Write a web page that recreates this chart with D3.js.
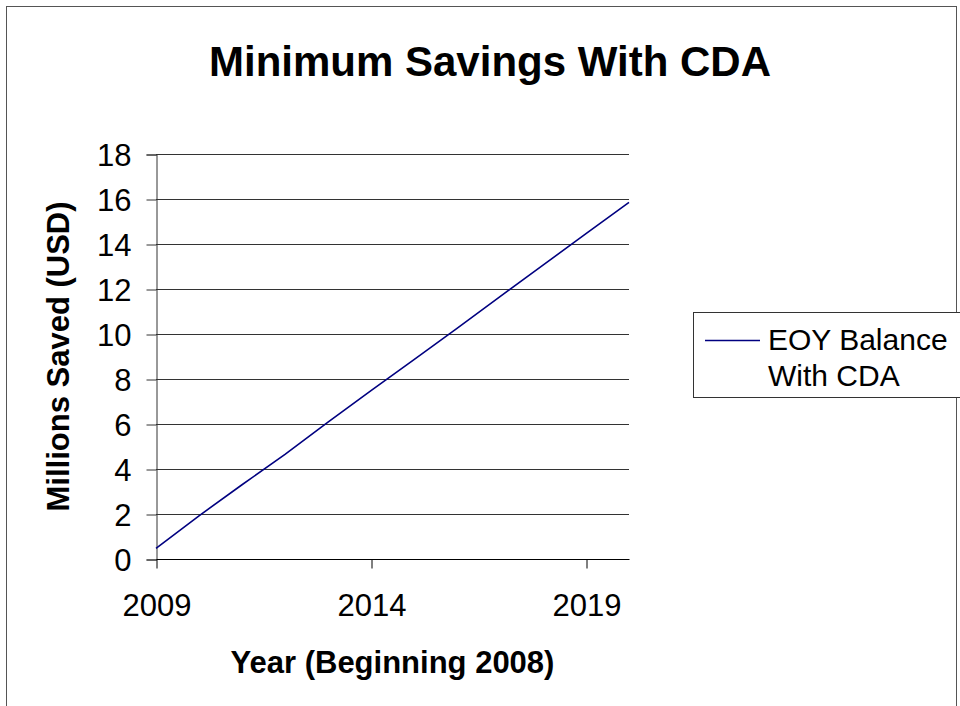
<!DOCTYPE html>
<html><head><meta charset="utf-8">
<script src="https://cdn.jsdelivr.net/npm/d3@7"></script>
<style>body{margin:0;background:#fff}svg{display:block}text{font-family:"Liberation Sans",Arial,sans-serif}</style>
</head><body>
<script>
const years = [2009,2010,2011,2012,2013,2014,2015,2016,2017,2018,2019,2020];
const balance = [0.47,1.92,3.30,4.65,6.08,7.48,8.86,10.25,11.66,13.06,14.46,15.85];
const yTicks = [0,2,4,6,8,10,12,14,16,18];
const xTickLabels = [2009,2014,2019];
const title = "Minimum Savings With CDA";
const xTitle = "Year (Beginning 2008)";
const yTitle = "Millions Saved (USD)";
const seriesName = ["EOY Balance","With CDA"];

const W=960,H=706;
const svg=d3.select("body").append("svg").attr("width",W).attr("height",H);
svg.append("rect").attr("x",0).attr("y",0).attr("width",W).attr("height",H).attr("fill","#fff");
svg.append("rect").attr("x",6.5).attr("y",6.5).attr("width",950).attr("height",720)
  .attr("fill","none").attr("stroke","#555").attr("stroke-width",1);

const L=156,R=629,T=154,B=559;
const x=d3.scaleLinear().domain([2009,2020]).range([L,R]);
const y=d3.scaleLinear().domain([0,18]).range([B,T]);

// gridlines
svg.append("g").selectAll("line").data(yTicks.filter(d=>d>0)).join("line")
  .attr("x1",L).attr("x2",R).attr("y1",d=>Math.round(y(d))+0.5).attr("y2",d=>Math.round(y(d))+0.5)
  .attr("stroke","#333").attr("stroke-width",1);

// y axis
const ya=svg.append("g").attr("transform",`translate(${L+0.5},0.5)`)
  .call(d3.axisLeft(y).tickValues(yTicks).tickSize(10).tickPadding(15).tickFormat(d3.format("d")));
ya.select(".domain").attr("stroke","#333");
ya.selectAll(".tick line").attr("stroke","#333");
ya.selectAll(".tick text").attr("font-size",31).attr("fill","#000").attr("dy","0.36em")
  .style("font-family","'Liberation Sans',Arial,sans-serif");

// x axis
const xa=svg.append("g").attr("transform",`translate(0.5,${B+0.5})`)
  .call(d3.axisBottom(x).tickValues(xTickLabels).tickSize(9).tickPadding(25).tickFormat(d3.format("d")));
xa.select(".domain").attr("stroke","#000").attr("d",`M${L},0H${R}`);
xa.selectAll(".tick line").attr("stroke","#000");
xa.selectAll(".tick text").attr("font-size",31).attr("fill","#000")
  .style("font-family","'Liberation Sans',Arial,sans-serif");

// line
svg.append("path").datum(years.map((yr,i)=>[yr,balance[i]]))
  .attr("fill","none").attr("stroke","#000080").attr("stroke-width",1.6)
  .attr("d",d3.line().x(d=>x(d[0])).y(d=>y(d[1])));

// titles
svg.append("text").attr("x",490).attr("y",76).attr("text-anchor","middle")
  .attr("font-size",42).attr("font-weight","bold").text(title);
svg.append("text").attr("x",(L+R)/2).attr("y",673).attr("text-anchor","middle")
  .attr("font-size",31).attr("font-weight","bold").text(xTitle);
svg.append("text").attr("transform",`translate(69,${(T+B)/2}) rotate(-90)`).attr("text-anchor","middle")
  .attr("font-size",31).attr("font-weight","bold").text(yTitle);

// legend
svg.append("rect").attr("x",693.5).attr("y",312.5).attr("width",280).attr("height",85)
  .attr("fill","#fff").attr("stroke","#333").attr("stroke-width",1);
svg.append("line").attr("x1",705).attr("x2",760).attr("y1",340.5).attr("y2",340.5)
  .attr("stroke","#000080").attr("stroke-width",1.6);
svg.append("text").attr("x",768).attr("y",350).attr("font-size",30).text(seriesName[0]);
svg.append("text").attr("x",768).attr("y",386).attr("font-size",30).text(seriesName[1]);
</script>
</body></html>
